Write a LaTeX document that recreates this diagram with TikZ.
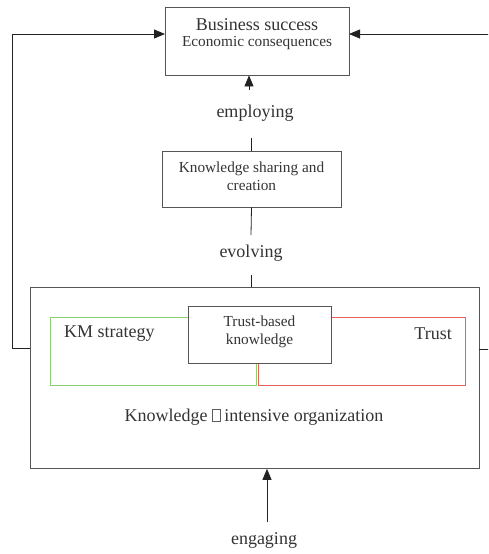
\documentclass[tikz,border=0pt]{standalone}
\usepackage{fontspec}
\setmainfont{Liberation Serif}
\usetikzlibrary{arrows.meta}
\definecolor{txt}{HTML}{333333}
\definecolor{ln}{HTML}{222222}
\definecolor{bx}{HTML}{555555}
\definecolor{kmgreen}{HTML}{8CCF70}
\definecolor{trustred}{HTML}{EC5F5F}
\newcommand{\missingglyph}{{\setlength{\fboxsep}{0pt}\setlength{\fboxrule}{0.3pt}\color{txt!80}\fbox{\rule{0pt}{1.5ex}\hspace{0.4em}}}}
\begin{document}
\begin{tikzpicture}[x=1pt,y=-1pt,
  big/.style={font=\fontsize{18}{21}\selectfont, text=txt, inner sep=0pt},
  small/.style={font=\fontsize{15.3}{18}\selectfont, text=txt, inner sep=0pt, align=center},
  boxnode/.style={draw=bx, line width=0.8pt, inner sep=0pt},
  colbox/.style={line width=1.4pt, minimum height=68pt, anchor=north west, inner sep=0pt},
  conn/.style={draw=ln, line width=0.8pt},
  arr/.style={conn, -{Triangle[length=11pt,width=9pt]}}]
\useasboundingbox (0,0) rectangle (488,554);
\clip (0,0) rectangle (488,554);

% top box
\node[boxnode, minimum width=184pt, minimum height=68pt] (top) at (257,41) {};
\node[big, align=center] (toptxt) at (257,25) {Business success};
\node[small] (econ) at (257,43) {Economic consequences};

% middle box
\node[boxnode, minimum width=179pt, minimum height=56pt] (mid) at (251.5,179) {};
\node[small] (midtxt) at (251.5,176) {Knowledge sharing and\\creation};

% big box
\node[boxnode, minimum width=449pt, minimum height=181pt, anchor=north west] (org) at (30,287) {};

% green and red boxes
\node[colbox, draw=kmgreen, minimum width=206pt] (km) at (50,317) {};
\node[colbox, draw=trustred, minimum width=207pt] (trust) at (258,317) {};

% trust-based box
\node[boxnode, fill=white, minimum width=143pt, minimum height=57pt] (tbk) at (259.5,334.5) {};
\node[small] (tbktxt) at (259.5,331.5) {Trust-based\\knowledge};

\node[big, anchor=west] (kmtxt) at (64,334) {KM strategy};
\node[big, anchor=east] (trusttxt) at (452,334) {Trust};
\node[big] (orgtxt) at (254,417) {Knowledge \missingglyph\ intensive organization};

% labels
\node[big] (employing) at (255,113) {employing};
\node[big] (evolving) at (251,253) {evolving};
\node[big] (engaging) at (264,540) {engaging};

% connectors
\coordinate (empTop) at (249,90);
\coordinate (empBot) at (251,138);
\coordinate (evoTop) at (251,235);
\coordinate (evoBot) at (251,275);
\coordinate (engTop) at (267,522);
\coordinate (leftOut) at (30,348);
\coordinate (leftIn) at (165,34);
\coordinate (rightOut) at (479,349);
\coordinate (rightIn) at (349,34);

\draw[arr] (empTop) -- (empTop |- top.south);
\draw[conn] (empBot) -- (empBot |- mid.north);
\draw[conn] (mid.south) -- (evoTop);
\draw[conn] (evoBot) -- (evoBot |- org.north);
\draw[arr] (engTop) -- (engTop |- org.south);
\draw[arr] (leftOut) -- (12,348) -- (12,34) -- (leftIn);
\draw[arr] (rightOut) -- (496,349) -- (496,34) -- (rightIn);
\end{tikzpicture}
\end{document}
